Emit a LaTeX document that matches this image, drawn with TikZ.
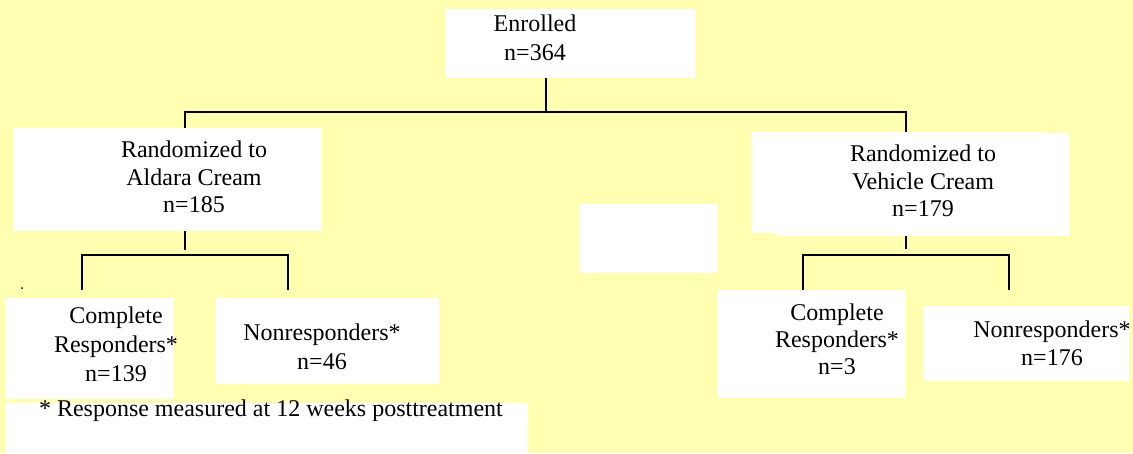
\documentclass[tikz,border=0pt]{standalone}
\usepackage{fontspec}
\setmainfont{Liberation Serif}
\definecolor{bgyellow}{RGB}{255,255,178}
\begin{document}
\begin{tikzpicture}[x=1pt,y=-1pt,
  box/.style={fill=white,draw=none,inner sep=0pt,outer sep=0pt,anchor=north west},
  lbl/.style={inner sep=0pt,outer sep=0pt,align=center,anchor=north},
  conn/.style={line width=1.8pt,black}]
\fill[bgyellow] (0,0) rectangle (1133,453);
\useasboundingbox (0,0) rectangle (1133,453);
% white boxes
\node[box,minimum width=250pt,minimum height=69pt] (enr) at (445,9) {};
\node[box,minimum width=309pt,minimum height=103pt] (ald) at (13,128) {};
\node[box,minimum width=292pt,minimum height=101pt] (veh1) at (751,132) {};
\node[box,minimum width=292pt,minimum height=103pt] (veh2) at (777,133) {};
\node[box,minimum width=138pt,minimum height=69pt] (mid) at (580,204) {};
\node[box,minimum width=169pt,minimum height=101pt] (crL) at (5,298) {};
\node[box,minimum width=224pt,minimum height=86pt] (nrL) at (215,298) {};
\node[box,minimum width=189pt,minimum height=108pt] (crR) at (717,290) {};
\node[box,minimum width=206pt,minimum height=75pt] (nrR) at (923,306) {};
\node[box,minimum width=523pt,minimum height=50pt] (foot) at (5,403) {};
% texts
\node[lbl,font=\fontsize{24}{28.3}\selectfont] (tenr) at (535,15.3) {Enrolled\\n=364};
\node[lbl,font=\fontsize{24}{27.5}\selectfont] (tald) at (194,141) {Randomized to\\Aldara Cream\\n=185};
\node[lbl,font=\fontsize{24}{27.5}\selectfont] (tveh) at (923,145.3) {Randomized to\\Vehicle Cream\\n=179};
\node[lbl,font=\fontsize{24}{29}\selectfont] (tcrL) at (116,307.2) {Complete\\Responders*\\n=139};
\node[lbl,font=\fontsize{24}{28.6}\selectfont] (tnrL) at (322,324.3) {Nonresponders*\\n=46};
\node[lbl,font=\fontsize{24}{27.2}\selectfont] (tcrR) at (837,303.6) {Complete\\Responders*\\n=3};
\node[lbl,font=\fontsize{24}{27.3}\selectfont] (tnrR) at (1052,321.3) {Nonresponders*\\n=176};
\node[inner sep=0pt,outer sep=0pt,anchor=base west,font=\fontsize{24}{28}\selectfont] (tfoot) at (39,416) {* Response measured at 12 weeks posttreatment};
\fill (22,288) circle (1pt);
% junction coordinates
\coordinate (j0) at (546,112);
\coordinate (jl) at (185,112);
\coordinate (jr) at (906,112);
\coordinate (al) at (185,250);
\coordinate (hl1) at (82,255);
\coordinate (hl2) at (288,255);
\coordinate (el1) at (82,290);
\coordinate (el2) at (288,290);
\coordinate (ar) at (906,249);
\coordinate (hr1) at (803,255);
\coordinate (hr2) at (1009,255);
\coordinate (er1) at (803,290);
\coordinate (er2) at (1009,290);
% connectors
\draw[conn] (enr.south -| j0) -- (j0);
\draw[conn] (jl |- ald.north) -- (jl) -- (jr) -- (jr |- veh1.north);
\draw[conn] (ald.south -| al) -- (al);
\draw[conn] (el1) -- (hl1) -- (hl2) -- (el2);
\draw[conn] (veh2.south -| ar) -- (ar);
\draw[conn] (er1) -- (hr1) -- (hr2) -- (er2);
\end{tikzpicture}
\end{document}
